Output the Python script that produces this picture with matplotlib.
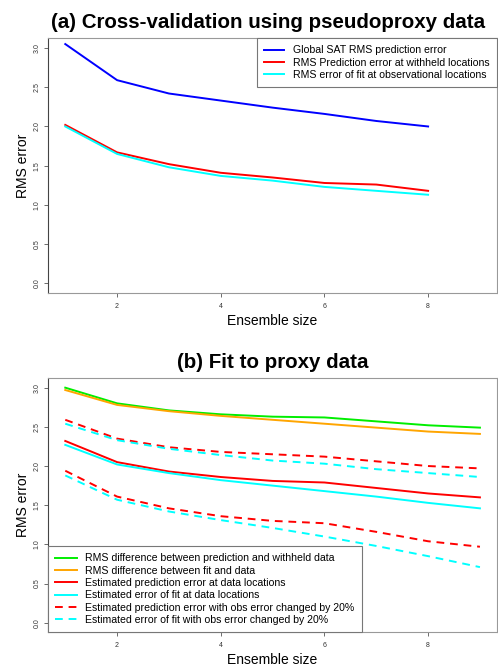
import numpy as np
import matplotlib
matplotlib.use("Agg")
import matplotlib.pyplot as plt

plt.rcParams["font.family"] = ["Liberation Sans", "DejaVu Sans"]

# (a) 交差検証 (x = 1..8)
ens_a = [1, 2, 3, 4, 5, 6, 7, 8]
global_sat = [3.05, 2.59, 2.42, 2.33, 2.24, 2.16, 2.07, 2.00]
pred_withheld = [2.02, 1.67, 1.52, 1.41, 1.35, 1.28, 1.26, 1.18]
fit_obs = [2.00, 1.65, 1.48, 1.37, 1.31, 1.23, 1.18, 1.13]
labels_a = [
    "Global SAT RMS prediction error",
    "RMS Prediction error at withheld locations",
    "RMS error of fit at observational locations",
]

# (b) プロキシデータへのフィット (x = 1..9)
ens_b = [1, 2, 3, 4, 5, 6, 7, 8, 9]
rms_pred_withheld = [3.00, 2.80, 2.71, 2.66, 2.63, 2.62, 2.57, 2.52, 2.49]
rms_fit_data = [2.97, 2.78, 2.70, 2.64, 2.59, 2.54, 2.49, 2.44, 2.41]
est_pred = [2.32, 2.05, 1.93, 1.86, 1.81, 1.79, 1.72, 1.65, 1.60]
est_fit = [2.27, 2.02, 1.91, 1.82, 1.75, 1.68, 1.61, 1.53, 1.46]
est_pred_hi = [2.59, 2.35, 2.24, 2.18, 2.15, 2.12, 2.06, 2.00, 1.97]
est_fit_hi = [2.54, 2.33, 2.22, 2.14, 2.07, 2.03, 1.96, 1.91, 1.86]
est_pred_lo = [1.94, 1.61, 1.46, 1.36, 1.30, 1.27, 1.16, 1.04, 0.97]
est_fit_lo = [1.88, 1.57, 1.42, 1.31, 1.21, 1.10, 0.98, 0.85, 0.71]
labels_b = [
    "RMS difference between prediction and withheld data",
    "RMS difference between fit and data",
    "Estimated prediction error at data locations",
    "Estimated error of fit at data locations",
    "Estimated prediction error with obs error changed by 20%",
    "Estimated error of fit with obs error changed by 20%",
]

yticks = [0.0, 0.5, 1.0, 1.5, 2.0, 2.5, 3.0]
xticks = [2, 4, 6, 8]

LW = 1.4


def style_axes(ax, title, title_x=0.5):
    ax.set_xlim(0.667, 9.333)
    ax.set_ylim(-0.122, 3.127)
    ax.set_xticks(xticks)
    ax.set_yticks(yticks)
    ax.set_yticklabels([f"{v:.1f}" for v in yticks], rotation=90, va="center")
    ax.tick_params(axis="both", length=3, width=0.6, color="#555555",
                   labelsize=5, labelcolor="#333333")
    ax.tick_params(axis="y", pad=2.5)
    ax.tick_params(axis="x", pad=4)
    for side, sp in ax.spines.items():
        sp.set_linewidth(0.8)
        sp.set_color("#444444" if side == "left" else "#999999")
    ax.set_title(title, fontsize=14.8, fontweight="bold", pad=7, x=title_x)
    ax.set_xlabel("Ensemble size", fontsize=10, labelpad=3)
    ax.set_ylabel("RMS error", fontsize=10, labelpad=2.5)


fig = plt.figure(figsize=(4.98, 6.67), dpi=100)
ax1 = fig.add_axes([0.0964, 0.5607, 0.902, 0.3823])
ax2 = fig.add_axes([0.0964, 0.0520, 0.902, 0.3817])

# パネル(a)
ax1.plot(ens_a, global_sat, color="blue", lw=LW, label=labels_a[0])
ax1.plot(ens_a, pred_withheld, color="red", lw=LW, label=labels_a[1])
ax1.plot(ens_a, fit_obs, color="cyan", lw=LW, label=labels_a[2])
style_axes(ax1, "(a) Cross-validation using pseudoproxy data", title_x=0.49)
leg1 = ax1.legend(loc="upper right", borderaxespad=0, fontsize=7.6,
                  fancybox=False, framealpha=1, edgecolor="#777777",
                  handlelength=1.9, handletextpad=0.85, labelspacing=0.22,
                  borderpad=0.7)
leg1.get_frame().set_linewidth(0.8)

# パネル(b)
ax2.plot(ens_b, rms_pred_withheld, color="#00ee00", lw=LW, label=labels_b[0])
ax2.plot(ens_b, rms_fit_data, color="orange", lw=LW, label=labels_b[1])
ax2.plot(ens_b, est_pred, color="red", lw=LW, label=labels_b[2])
ax2.plot(ens_b, est_fit, color="cyan", lw=LW, label=labels_b[3])
ax2.plot(ens_b, est_pred_hi, color="red", lw=LW, ls=(0, (4, 3)), label=labels_b[4])
ax2.plot(ens_b, est_fit_hi, color="cyan", lw=LW, ls=(0, (4, 3)), label=labels_b[5])
ax2.plot(ens_b, est_pred_lo, color="red", lw=LW, ls=(0, (4, 3)))
ax2.plot(ens_b, est_fit_lo, color="cyan", lw=LW, ls=(0, (4, 3)))
style_axes(ax2, "(b) Fit to proxy data")
leg2 = ax2.legend(loc="lower left", borderaxespad=0, fontsize=7.6,
                  fancybox=False, framealpha=1, edgecolor="#777777",
                  handlelength=2.0, handletextpad=0.85, labelspacing=0.22,
                  borderpad=0.7)
leg2.get_frame().set_linewidth(0.8)

fig.savefig("out.png", dpi=100)
